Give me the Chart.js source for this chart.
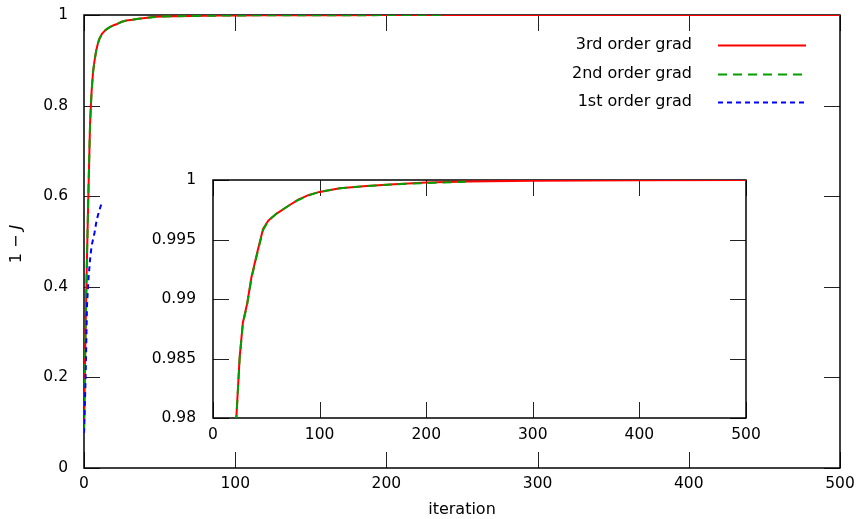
<!DOCTYPE html>
<html>
<head>
<meta charset="utf-8">
<script src="https://cdn.jsdelivr.net/npm/chart.js@4/dist/chart.umd.min.js"></script>
<style>
  html, body { margin: 0; padding: 0; background: #fff; }
  #wrap { position: relative; width: 856px; height: 519px; }
  #main { position: absolute; left: 0; top: 0; }
  #inset { position: absolute; left: 140px; top: 160px; }
</style>
</head>
<body>
<div id="wrap">
  <canvas id="main" width="856" height="519"></canvas>
  <canvas id="inset" width="640" height="290"></canvas>
</div>
<script>
// ---------- data ----------
const thirdIter = [0, 1, 2, 3, 4, 5, 6, 7, 8, 9, 10, 12, 14, 16, 18, 20, 22, 25, 28, 32, 36, 42, 47, 52, 60, 72, 80, 90, 100, 119, 144, 170, 200, 240, 300, 400, 500];
const thirdVals = [0.077, 0.30, 0.47, 0.62, 0.76, 0.83, 0.875, 0.90, 0.92, 0.935, 0.946, 0.959, 0.966, 0.971, 0.975, 0.978, 0.9802, 0.9851, 0.9880, 0.9896, 0.9918, 0.9941, 0.9959, 0.9966, 0.9972, 0.9979, 0.99835, 0.99875, 0.9990, 0.9993, 0.9995, 0.99965, 0.99978, 0.99988, 0.99994, 0.99997, 0.99999];

const secondIter = [0, 1, 2, 3, 4, 5, 6, 7, 8, 9, 10, 12, 14, 16, 18, 20, 22, 25, 28, 32, 36, 42, 47, 52, 60, 72, 80, 90, 100, 119, 144, 170, 200, 237];
const secondVals = [0.077, 0.30, 0.47, 0.62, 0.76, 0.83, 0.874, 0.90, 0.92, 0.935, 0.946, 0.959, 0.966, 0.971, 0.975, 0.978, 0.9801, 0.9850, 0.9879, 0.9895, 0.9917, 0.9940, 0.9958, 0.9966, 0.9972, 0.9979, 0.99832, 0.99872, 0.9990, 0.9993, 0.9995, 0.99963, 0.99975, 0.99985];

const firstIter = [0, 1, 2, 3, 4, 5, 6, 7, 8, 9, 10, 11, 12];
const firstVals = [0.077, 0.19, 0.36, 0.42, 0.46, 0.49, 0.505, 0.52, 0.54, 0.555, 0.567, 0.578, 0.586];

const seriesLabels = ['3rd order grad', '2nd order grad', '1st order grad'];
const mainXTicks = [0, 100, 200, 300, 400, 500];
const mainYTicks = [0, 0.2, 0.4, 0.6, 0.8, 1];
const mainYTickLabels = ['0', '0.2', '0.4', '0.6', '0.8', '1'];
const insetXTicks = [0, 100, 200, 300, 400, 500];
const insetYTicks = [0.98, 0.985, 0.99, 0.995, 1];
const insetYTickLabels = ['0.98', '0.985', '0.99', '0.995', '1'];
const xTitle = 'iteration';

// ---------- styling ----------
const FONT = '"DejaVu Sans", sans-serif';
const TICKFONT = { family: FONT, size: 15.5 };
const styles = [
  { color: '#ff0000', dash: [], order: 2 },
  { color: '#00a000', dash: [9, 6], order: 1 },
  { color: '#0000ff', dash: [5, 4], order: 0 }
];
function pts(xs, ys) { return xs.map((x, i) => ({ x: x, y: ys[i] })); }
function ds(i, xs, ys) {
  return {
    label: seriesLabels[i], data: pts(xs, ys), order: styles[i].order,
    borderColor: styles[i].color, borderDash: styles[i].dash,
    borderWidth: 2, pointRadius: 0, tension: 0, fill: false,
    borderCapStyle: 'butt', borderJoinStyle: 'round'
  };
}

function noPad(s) { s.paddingLeft = 0; s.paddingRight = 0; s.paddingTop = 0; s.paddingBottom = 0; }

// plugin: box, inward mirrored ticks (drawn beneath the curves)
function frameTicks(tickLen) {
  return {
    id: 'frameTicks',
    beforeDatasetsDraw(chart) {
      const { ctx, chartArea: a, scales } = chart;
      ctx.save();
      ctx.strokeStyle = '#222';
      ctx.lineWidth = 1;
      ctx.beginPath();
      scales.x.ticks.forEach(t => {
        const px = Math.round(scales.x.getPixelForValue(t.value)) + 0.5;
        ctx.moveTo(px, a.bottom); ctx.lineTo(px, a.bottom - tickLen);
        ctx.moveTo(px, a.top); ctx.lineTo(px, a.top + tickLen);
      });
      scales.y.ticks.forEach(t => {
        const py = Math.round(scales.y.getPixelForValue(t.value)) + 0.5;
        ctx.moveTo(a.left, py); ctx.lineTo(a.left + tickLen, py);
        ctx.moveTo(a.right, py); ctx.lineTo(a.right - tickLen, py);
      });
      ctx.stroke();
      ctx.strokeStyle = '#000';
      ctx.lineWidth = 1.5;
      ctx.strokeRect(a.left, a.top, a.right - a.left, a.bottom - a.top);
      ctx.restore();
    }
  };
}

// plugin: legend + y title for main chart
const mainExtras = {
  id: 'mainExtras',
  afterDraw(chart) {
    const ctx = chart.ctx;
    ctx.save();
    ctx.font = '16px ' + FONT;
    ctx.textAlign = 'right';
    ctx.textBaseline = 'middle';
    const rows = [45, 74, 102];
    chart.data.datasets.forEach((d, i) => {
      ctx.fillStyle = '#000';
      ctx.fillText(d.label, 692, rows[i]);
      ctx.strokeStyle = d.borderColor;
      ctx.lineWidth = 2;
      ctx.setLineDash(d.borderDash || []);
      ctx.beginPath();
      ctx.moveTo(718, rows[i] + 0.5);
      ctx.lineTo(806, rows[i] + 0.5);
      ctx.stroke();
    });
    ctx.setLineDash([]);
    // y title "1 − J"
    ctx.translate(17, 244);
    ctx.rotate(-Math.PI / 2);
    ctx.fillStyle = '#000';
    ctx.textAlign = 'left';
    ctx.textBaseline = 'middle';
    ctx.font = '16px ' + FONT;
    const part1 = '1 \u2212 ';
    const w1 = ctx.measureText(part1).width;
    ctx.font = 'italic 16px ' + FONT;
    const w2 = ctx.measureText('J').width;
    const start = -(w1 + w2) / 2;
    ctx.font = '16px ' + FONT;
    ctx.fillText(part1, start, 0);
    ctx.font = 'italic 16px ' + FONT;
    ctx.fillText('J', start + w1, 0);
    ctx.restore();
  }
};

function setTicks(values) {
  return function (scale) { scale.ticks = values.map(v => ({ value: v })); };
}

new Chart(document.getElementById('main'), {
  type: 'line',
  data: { datasets: [ds(0, thirdIter, thirdVals), ds(1, secondIter, secondVals), ds(2, firstIter, firstVals)] },
  options: {
    responsive: false, animation: false, devicePixelRatio: 1,
    layout: { padding: { top: 15, right: 16, left: 0, bottom: 0 } },
    plugins: { legend: { display: false }, tooltip: { enabled: false } },
    scales: {
      x: {
        type: 'linear', min: 0, max: 500,
        afterBuildTicks: setTicks(mainXTicks),
        afterFit(s) { s.height = 51; noPad(s); },
        grid: { display: false, drawTicks: false },
        border: { display: false },
        ticks: { font: TICKFONT, color: '#000', padding: 7, maxRotation: 0, autoSkip: false },
        title: { display: true, text: xTitle, font: { family: FONT, size: 16 }, color: '#000', padding: { top: 0, bottom: 0 } }
      },
      y: {
        type: 'linear', min: 0, max: 1,
        afterBuildTicks: setTicks(mainYTicks),
        afterFit(s) { s.width = 84; noPad(s); },
        grid: { display: false, drawTicks: false },
        border: { display: false },
        ticks: { font: TICKFONT, color: '#000', padding: 16, autoSkip: false,
          callback: (v) => mainYTickLabels[mainYTicks.indexOf(v)] ?? String(v) }
      }
    }
  },
  plugins: [frameTicks(16), mainExtras]
});

new Chart(document.getElementById('inset'), {
  type: 'line',
  data: { datasets: [ds(0, thirdIter, thirdVals), ds(1, secondIter, secondVals)] },
  options: {
    responsive: false, animation: false, devicePixelRatio: 1,
    layout: { padding: { top: 20, right: 34, left: 0, bottom: 0 } },
    plugins: { legend: { display: false }, tooltip: { enabled: false } },
    scales: {
      x: {
        type: 'linear', min: 0, max: 500,
        afterBuildTicks: setTicks(insetXTicks),
        afterFit(s) { s.height = 32; noPad(s); },
        grid: { display: false, drawTicks: false },
        border: { display: false },
        ticks: { font: TICKFONT, color: '#000', padding: 8, maxRotation: 0, autoSkip: false }
      },
      y: {
        type: 'linear', min: 0.98, max: 1,
        afterBuildTicks: setTicks(insetYTicks),
        afterFit(s) { s.width = 73; noPad(s); },
        grid: { display: false, drawTicks: false },
        border: { display: false },
        ticks: { font: TICKFONT, color: '#000', padding: 17, autoSkip: false,
          callback: (v) => insetYTickLabels[insetYTicks.indexOf(v)] ?? String(v) }
      }
    }
  },
  plugins: [frameTicks(16)]
});
</script>
</body>
</html>
